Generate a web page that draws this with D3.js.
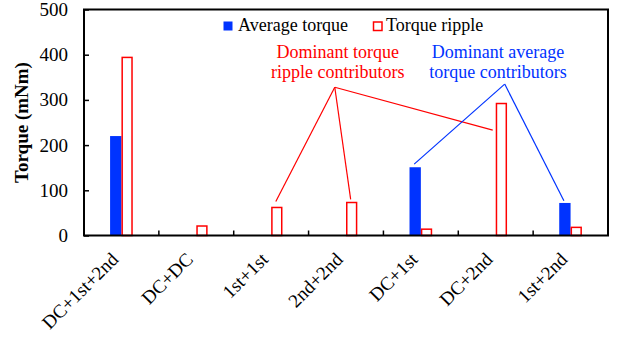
<!DOCTYPE html>
<html>
<head>
<meta charset="utf-8">
<script src="https://cdn.jsdelivr.net/npm/d3@7"></script>
<style>
  html, body { margin: 0; padding: 0; background: #fff; }
  svg { display: block; font-family: "Liberation Serif", "Times New Roman", serif; }
</style>
</head>
<body>
<svg id="chart" width="620" height="343"></svg>
<script>
// data
const categories = ['DC+1st+2nd', 'DC+DC', '1st+1st', '2nd+2nd', 'DC+1st', 'DC+2nd', '1st+2nd'];
const seriesNames = ['Average torque', 'Torque ripple'];
const averageTorque = [220, 1, 1, 1, 151, 1, 72];
const torqueRipple = [394, 21, 62, 73, 14, 292, 18];
const yTicks = [0, 100, 200, 300, 400, 500];

// callouts: [category, series, value the line points at]
const rippleTargets = [['1st+1st', 1, 75], ['2nd+2nd', 1, 80], ['DC+2nd', 1, 233]];
const averageTargets = [['DC+1st', 0, 158], ['1st+2nd', 0, 77]];

const blue = '#0033ff', red = '#ff0000';
const serif = '"Liberation Serif", "Times New Roman", serif';
const svg = d3.select('#chart');
const pLeft = 84, pRight = 608, pTop = 9.5, pBottom = 235.5;

const x = d3.scaleBand().domain(categories).range([pLeft, pRight]);
const x1 = d3.scaleBand().domain(seriesNames).range([0, x.bandwidth()]).paddingOuter(2.3);
const y = d3.scaleLinear().domain([0, 500]).range([pBottom, pTop]);
// continuous position along categories, used for callout text / hubs
const xi = d3.scaleLinear().domain([0, categories.length]).range([pLeft, pRight]);

const rows = categories.map((c, i) => ({ cat: c, vals: [averageTorque[i], torqueRipple[i]] }));

const g = svg.append('g');

// bars
const grp = g.selectAll('.grp').data(rows).enter().append('g')
  .attr('transform', d => `translate(${x(d.cat)},0)`);
grp.append('rect')
  .attr('x', x1(seriesNames[0]))
  .attr('width', x1.bandwidth())
  .attr('y', d => y(d.vals[0]))
  .attr('height', d => pBottom - y(d.vals[0]))
  .attr('fill', blue);
grp.append('rect')
  .attr('x', x1(seriesNames[1]) + 0.75)
  .attr('width', x1.bandwidth() - 1.5)
  .attr('y', d => y(d.vals[1]))
  .attr('height', d => pBottom - y(d.vals[1]))
  .attr('fill', '#fff')
  .attr('stroke', red)
  .attr('stroke-width', 1.5);

// frame
g.append('rect')
  .attr('x', pLeft).attr('y', pTop)
  .attr('width', pRight - pLeft).attr('height', pBottom - pTop)
  .attr('fill', 'none').attr('stroke', '#000').attr('stroke-width', 2);

// y axis
const yAxis = g.append('g')
  .attr('transform', `translate(${pLeft},0)`)
  .call(d3.axisLeft(y).tickValues(yTicks).tickSizeInner(-5).tickSizeOuter(0).tickPadding(16))
  .attr('font-family', serif)
  .attr('font-size', 19);
yAxis.select('.domain').remove();
yAxis.selectAll('line').attr('stroke', '#000').attr('stroke-width', 1.5);
yAxis.selectAll('text').attr('fill', '#000');

// x ticks at category boundaries
g.selectAll('.xtick').data(categories.slice(1)).enter().append('line')
  .attr('x1', d => x(d)).attr('x2', d => x(d))
  .attr('y1', pBottom).attr('y2', pBottom - 5)
  .attr('stroke', '#000').attr('stroke-width', 1.5);

// x labels, rotated
g.selectAll('.xlab').data(categories).enter().append('text')
  .attr('transform', d => `translate(${x(d) + x.bandwidth() / 2 - 2},${pBottom + 25}) rotate(-45)`)
  .attr('text-anchor', 'end')
  .style('font-size', '19px')
  .text(d => d);

// y title
g.append('text')
  .attr('transform', `translate(28,${(pTop + pBottom) / 2}) rotate(-90)`)
  .attr('text-anchor', 'middle')
  .style('font-size', '19px')
  .style('font-weight', 'bold')
  .text('Torque (mNm)');

// legend
const leg = g.append('g');
leg.append('rect').attr('x', 223.5).attr('y', 21.5).attr('width', 9).attr('height', 9).attr('fill', blue);
leg.append('text').attr('x', 238).attr('y', 30.5).style('font-size', '18px').text(seriesNames[0]);
leg.append('rect').attr('x', 373.5).attr('y', 22).attr('width', 8.5).attr('height', 8.5)
  .attr('fill', '#fff').attr('stroke', red).attr('stroke-width', 1.5);
leg.append('text').attr('x', 386).attr('y', 30.5).style('font-size', '18px').text(seriesNames[1]);

// callouts
function targetX(t) {
  const bx = x(t[0]) + x1(seriesNames[t[1]]);
  // the DC+2nd ripple line stops just left of the tall bar
  return t[0] === 'DC+2nd' ? bx - 3 : bx + x1.bandwidth() / 2 - 1;
}
function callout(lines, hubI, hubV, textI, targets, color) {
  const t = g.append('text')
    .attr('text-anchor', 'middle')
    .attr('fill', color)
    .style('font-size', '18px');
  lines.forEach((s, k) => {
    t.append('tspan').attr('x', xi(textI)).attr('y', 58 + k * 20).text(s);
  });
  targets.forEach(tg => {
    g.append('line')
      .attr('x1', xi(hubI)).attr('y1', y(hubV))
      .attr('x2', targetX(tg)).attr('y2', y(tg[2]))
      .attr('stroke', color).attr('stroke-width', 1.2);
  });
}
callout(['Dominant torque', 'ripple contributors'], 3.35, 328, 3.39, rippleTargets, red);
callout(['Dominant average', 'torque contributors'], 5.62, 335, 5.53, averageTargets, blue);
</script>
</body>
</html>
